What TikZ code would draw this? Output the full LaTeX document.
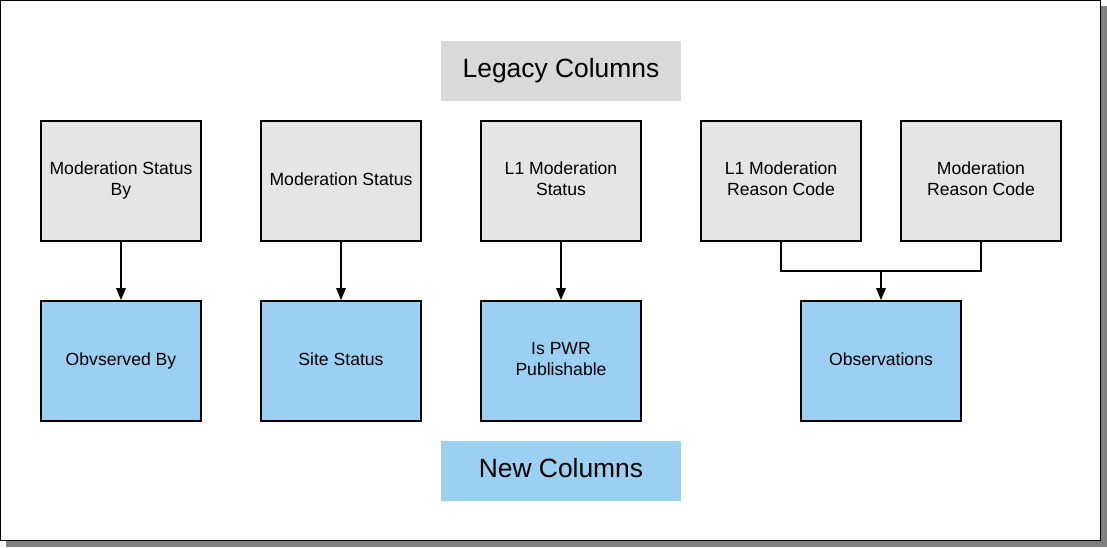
\documentclass[tikz,border=0pt]{standalone}
\usepackage{fontspec}
\setmainfont{Liberation Sans}
\usetikzlibrary{arrows.meta}
\definecolor{boxgray}{HTML}{E5E5E5}
\definecolor{labgray}{HTML}{D9D9D9}
\definecolor{boxblue}{HTML}{9BD0F2}
\definecolor{shadowgray}{HTML}{808080}
\newcommand{\mylines}[1]{\begin{tabular}{@{}c@{}}#1\end{tabular}}
\tikzset{
  colbox/.style={draw=black, line width=1.8pt, minimum width=160pt, minimum height=120pt,
    inner sep=0pt, font=\fontsize{17.6}{21}\selectfont},
  oldbox/.style={colbox, fill=boxgray},
  newbox/.style={colbox, fill=boxblue},
  legend/.style={minimum width=240pt, minimum height=60pt, inner sep=0pt,
    font=\fontsize{26.4}{30}\selectfont},
  conn/.style={line width=1.4pt},
  arr/.style={conn, -{Triangle[length=12pt,width=9.5pt]}}
}
\begin{document}
\begin{tikzpicture}[x=1pt,y=-1pt]
\useasboundingbox (0,0) rectangle (1107,547);
\fill[shadowgray] (6,6) rectangle (1107,547);
\draw[fill=white, line width=1.4pt] (0.7,0.7) rectangle (1100.5,540.5);

\node[legend, fill=labgray] (legacy) at (561,71) {\mylines{Legacy Columns}};
\node[legend, fill=boxblue] (newcols) at (561,471) {\mylines{New Columns}};

\node[oldbox] (a1) at (121,181) {\mylines{Moderation Status\\By}};
\node[oldbox] (a2) at (341,181) {\mylines{Moderation Status}};
\node[oldbox] (a3) at (561,181) {\mylines{L1 Moderation\\Status}};
\node[oldbox] (a4) at (781,181) {\mylines{L1 Moderation\\Reason Code}};
\node[oldbox] (a5) at (981,181) {\mylines{Moderation\\Reason Code}};

\node[newbox] (b1) at (121,361) {\mylines{Obvserved By}};
\node[newbox] (b2) at (341,361) {\mylines{Site Status}};
\node[newbox] (b3) at (561,361) {\mylines{Is PWR\\Publishable}};
\node[newbox] (b4) at (881,361) {\mylines{Observations}};

\draw[arr] (a1.south) -- (b1.north);
\draw[arr] (a2.south) -- (b2.north);
\draw[arr] (a3.south) -- (b3.north);
\coordinate (j) at (881,271);
\draw[conn] (a4.south) |- (j) -| (a5.south);
\draw[arr] (j) -- (b4.north);
\end{tikzpicture}
\end{document}
